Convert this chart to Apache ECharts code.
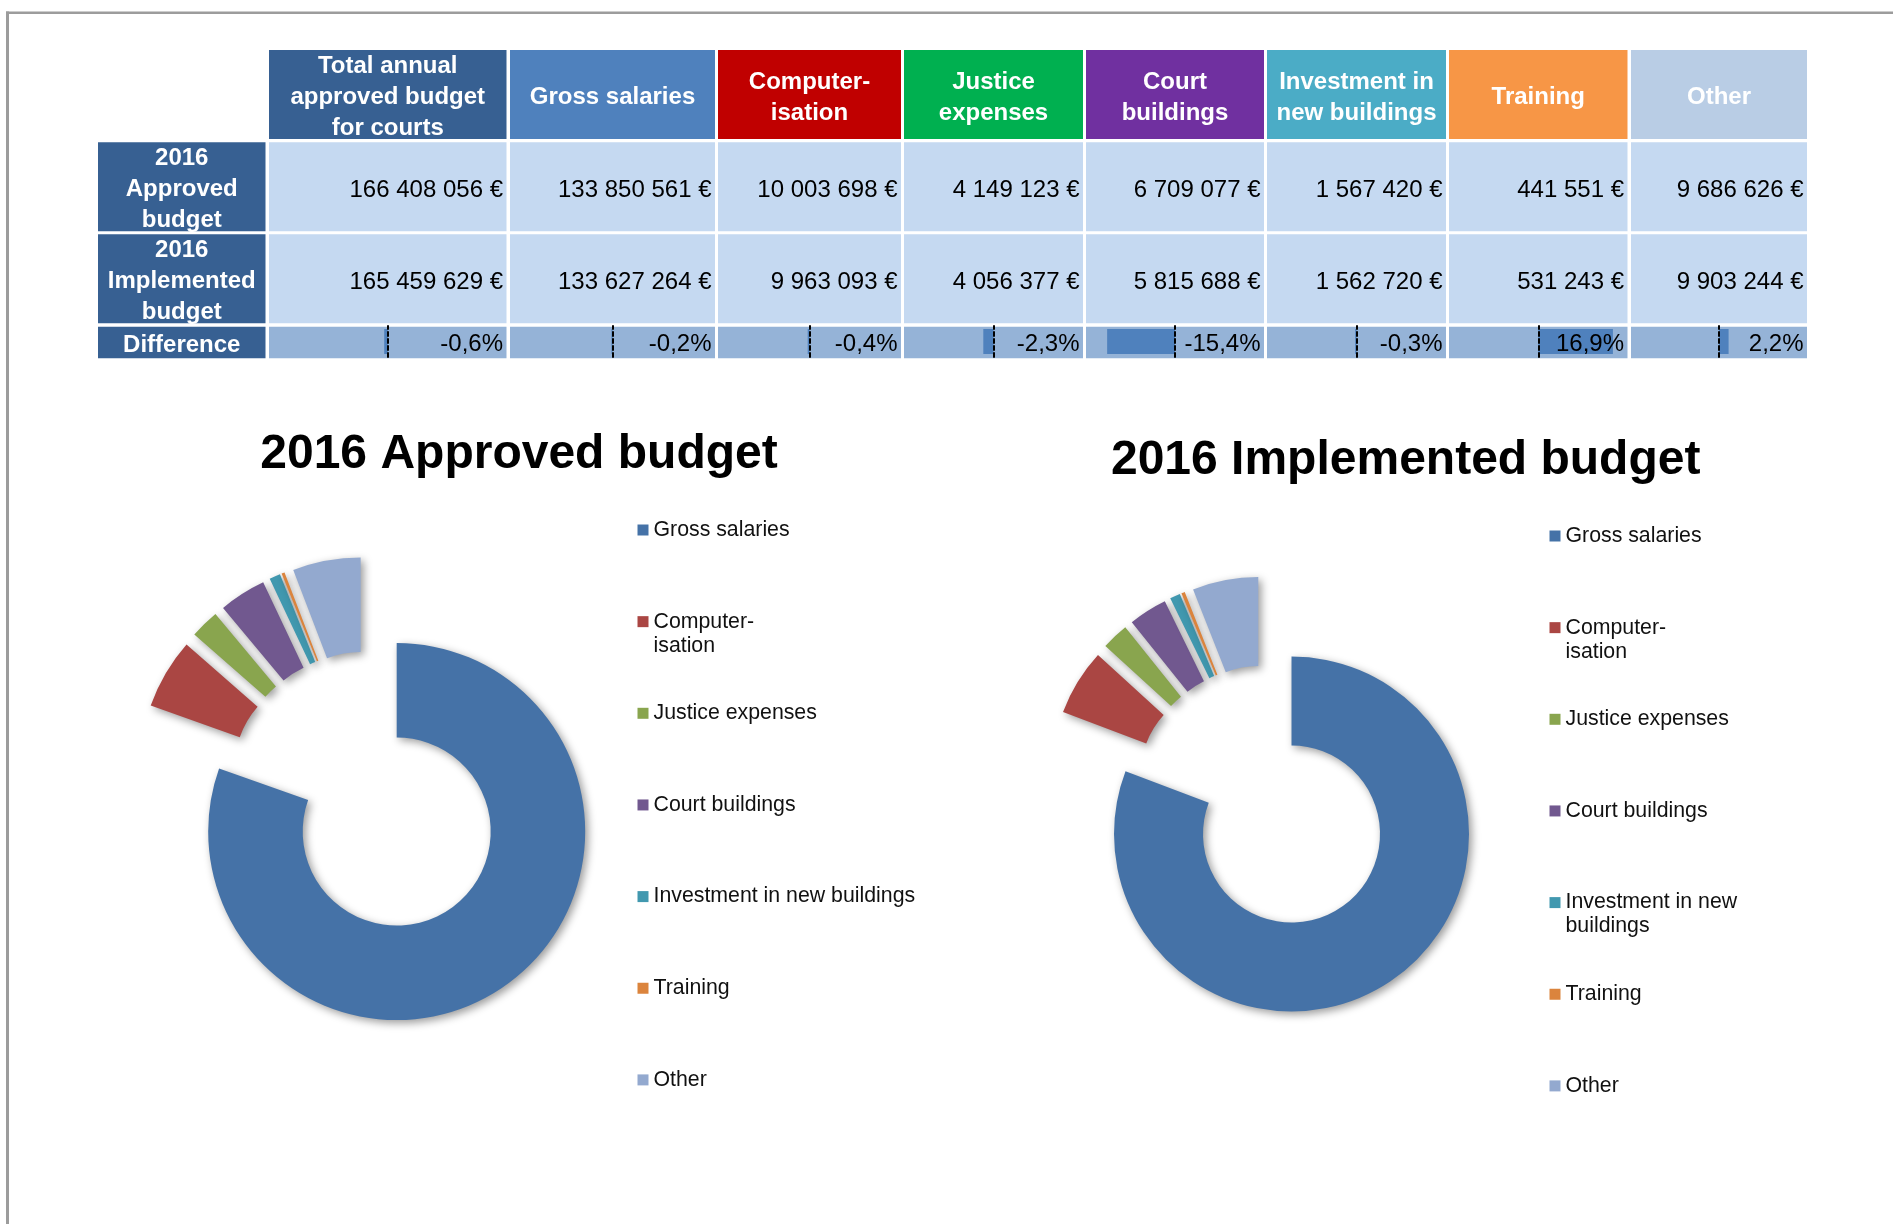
<!DOCTYPE html>
<html>
<head>
<meta charset="utf-8">
<title>2016 court budget</title>
<script src="https://cdn.jsdelivr.net/npm/echarts@6/dist/echarts.min.js"></script>
<style>
  html, body { margin: 0; padding: 0; background: #ffffff; }
  #chart { width: 1893px; height: 1224px; }
</style>
</head>
<body>
<div id="chart"></div>
<script>
// ---- data ----
const categories = ['Gross salaries', 'Computer-isation', 'Justice expenses', 'Court buildings',
  'Investment in new buildings', 'Training', 'Other'];
const headerLabels = ['Total annual\napproved budget\nfor courts', 'Gross salaries', 'Computer-\nisation',
  'Justice\nexpenses', 'Court\nbuildings', 'Investment in\nnew buildings', 'Training', 'Other'];
const rowLabels = ['2016\nApproved\nbudget', '2016\nImplemented\nbudget', 'Difference'];
const approved = [133850561, 10003698, 4149123, 6709077, 1567420, 441551, 9686626];
const implemented = [133627264, 9963093, 4056377, 5815688, 1562720, 531243, 9903244];
const approvedTotal = 166408056;
const implementedTotal = 165459629;
// difference in %, total column first
const difference = [-0.6, -0.2, -0.4, -2.3, -15.4, -0.3, 16.9, 2.2];

// ---- styling ----
const headerColors = ['#376092', '#4F81BD', '#C00000', '#00B050', '#7030A0', '#4BACC6', '#F79646', '#B9CDE5'];
const sliceColors = ['#4572A7', '#AA4643', '#89A54E', '#71588F', '#4198AF', '#DB843D', '#93A9CF'];
const FONT = '"Liberation Sans", Arial, Helvetica, sans-serif';
const labelBlue = '#376092';
const valueCell = '#C5D9F1';
const diffCell = '#95B3D7';
const barBlue = '#4F81BD';

// table layout
const colLeft = [98, 269, 510, 718, 904, 1086, 1267, 1449, 1631];
const colWidth = [167.5, 237.5, 205, 183, 179, 178, 179, 178.5, 176];
const rowTop = [50, 142.3, 234.3, 326.7];
const rowHeight = [89, 89, 89, 31.6];
const barRange = 20.2; // half-width of each data-bar cell, in %

const fmtMoney = n => String(n).replace(/\B(?=(\d{3})+(?!\d))/g, ' ') + ' €';
const fmtPct = v => v.toFixed(1).replace('.', ',') + '%';

const graphics = [];
function cell(x, y, w, h, fill) {
  graphics.push({ type: 'rect', z: -10, silent: true, shape: { x: x, y: y, width: w, height: h }, style: { fill: fill } });
}
function text(str, x, y, opts) {
  graphics.push({
    type: 'text', z: 50, silent: true, x: x, y: y,
    style: Object.assign({
      text: str, fontFamily: FONT, fontSize: 24, fill: '#000',
      align: 'center', verticalAlign: 'middle', lineHeight: 31
    }, opts || {})
  });
}

// page frame
graphics.push({ type: 'rect', z: -20, silent: true, shape: { x: 6, y: 11.5, width: 1893, height: 2.5 }, style: { fill: '#9c9c9c' } });
graphics.push({ type: 'rect', z: -20, silent: true, shape: { x: 6, y: 11.5, width: 3, height: 1224 }, style: { fill: '#9c9c9c' } });

// header row
headerLabels.forEach((lab, c) => {
  const x = colLeft[c + 1], w = colWidth[c + 1];
  cell(x, rowTop[0], w, rowHeight[0], headerColors[c]);
  text(lab, x + w / 2, rowTop[0] + rowHeight[0] / 2 + 3, { fill: '#fff', fontWeight: 'bold' });
});

// row labels
rowLabels.forEach((lab, r) => {
  cell(colLeft[0], rowTop[r + 1], colWidth[0], rowHeight[r + 1], labelBlue);
  text(lab, colLeft[0] + colWidth[0] / 2, rowTop[r + 1] + rowHeight[r + 1] / 2 + 3, { fill: '#fff', fontWeight: 'bold' });
});

// value rows
const rows = [[approvedTotal].concat(approved), [implementedTotal].concat(implemented)];
rows.forEach((vals, r) => {
  vals.forEach((v, c) => {
    const x = colLeft[c + 1], w = colWidth[c + 1];
    cell(x, rowTop[r + 1], w, rowHeight[r + 1], valueCell);
    text(fmtMoney(v), x + w - 3.5, rowTop[r + 1] + rowHeight[r + 1] / 2 + 3.5, { align: 'right' });
  });
});

// difference row
difference.forEach((v, c) => {
  const x = colLeft[c + 1], w = colWidth[c + 1];
  cell(x, rowTop[3], w, rowHeight[3], diffCell);
  text(fmtPct(v), x + w - 3.5, rowTop[3] + rowHeight[3] / 2 + 2, { align: 'right' });
});

// chart titles
text('2016 Approved budget', 519, 455, { fontSize: 48, fontWeight: 'bold', lineHeight: 56 });
text('2016 Implemented budget', 1405.7, 461, { fontSize: 48, fontWeight: 'bold', lineHeight: 56 });

// data bars in the difference row: one small grid per cell
const grids = [], xAxes = [], yAxes = [], series = [];
difference.forEach((v, i) => {
  grids.push({ left: colLeft[i + 1], top: 326, width: colWidth[i + 1], height: 31, containLabel: false, outerBoundsMode: 'none' });
  xAxes.push({ type: 'value', gridIndex: i, min: -barRange, max: barRange, show: false });
  yAxes.push({
    type: 'category', gridIndex: i, data: ['diff'], z: 5,
    axisLine: { show: true, onZero: true, lineStyle: { color: '#000', width: 2, type: [4, 3] } },
    axisTick: { show: false }, axisLabel: { show: false }, splitLine: { show: false }
  });
  series.push({
    type: 'bar', xAxisIndex: i, yAxisIndex: i, data: [v], barWidth: 25, silent: true, z: 2,
    itemStyle: { color: barBlue, borderWidth: 0 }
  });
});

// doughnuts: every segment pulled out by a quarter of the outer radius
const shadow = { shadowBlur: 9, shadowOffsetX: 3, shadowOffsetY: 3, shadowColor: 'rgba(0,0,0,0.4)' };
function doughnut(values, center, radius, offset) {
  return {
    type: 'pie', center: center, radius: radius, startAngle: 90, clockwise: true,
    selectedMode: 'multiple', selectedOffset: offset, silent: true,
    label: { show: false }, labelLine: { show: false },
    emphasis: { disabled: true },
    itemStyle: Object.assign({ borderWidth: 0 }, shadow),
    select: { itemStyle: Object.assign({ borderWidth: 0 }, shadow) },
    data: categories.map((name, i) => ({
      name: name, value: values[i], selected: true,
      itemStyle: { color: sliceColors[i] },
      select: { itemStyle: { color: sliceColors[i] } }
    }))
  };
}
series.push(doughnut(approved, [369.3, 792.7], [94, 188.5], 47.5));
series.push(doughnut(implemented, [1266.5, 797.8], [88.5, 177.5], 44));

// legends: every entry is three text lines tall so rows stay evenly spaced;
// the swatch sits level with the first line of the name
function legend(left, firstLine, wraps) {
  const label = name => wraps[name] || name;
  return {
    orient: 'vertical', left: left, top: firstLine - 36, padding: 0, itemGap: 19.65,
    itemWidth: 11, itemHeight: 11, icon: 'rect', selectedMode: false,
    formatter: name => (label(name).indexOf('\n') >= 0 ? '\n' + label(name) : label(name)),
    textStyle: { fontFamily: FONT, fontSize: 21.3, color: '#111', lineHeight: 24 },
    data: categories.map((name, i) => ({
      name: name,
      itemStyle: { color: sliceColors[i] },
      textStyle: { padding: label(name).indexOf('\n') >= 0 ? 0 : [24, 0, 24, 0] }
    }))
  };
}
const legendApproved = legend(637.5, 530, { 'Computer-isation': 'Computer-\nisation' });
const legendImplemented = legend(1549.5, 536, {
  'Computer-isation': 'Computer-\nisation',
  'Investment in new buildings': 'Investment in new\nbuildings'
});

const chart = echarts.init(document.getElementById('chart'), null, { renderer: 'canvas' });
chart.setOption({
  animation: false,
  backgroundColor: '#ffffff',
  grid: grids,
  xAxis: xAxes,
  yAxis: yAxes,
  legend: [legendApproved, legendImplemented],
  series: series,
  graphic: { elements: graphics }
});
</script>
</body>
</html>
